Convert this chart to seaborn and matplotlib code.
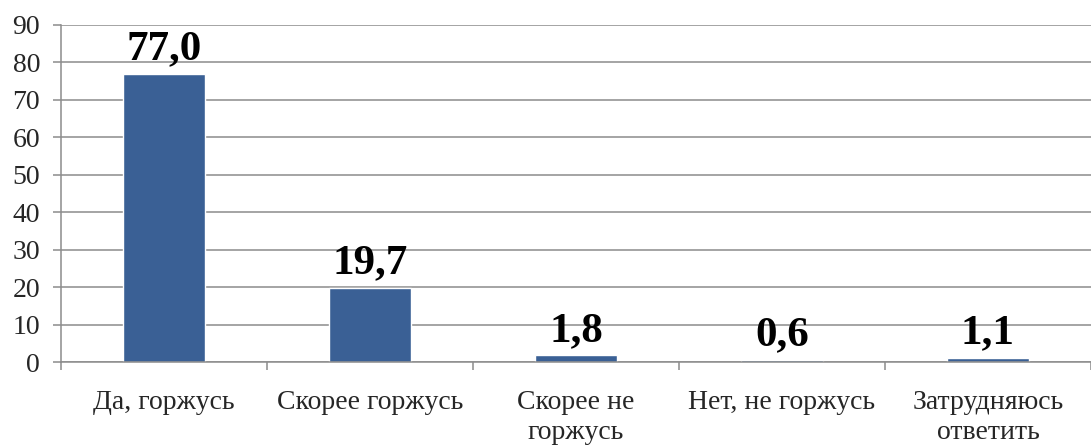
import matplotlib
matplotlib.use("Agg")
import matplotlib.pyplot as plt
import seaborn as sns
import numpy as np

categories = ["Да, горжусь", "Скорее горжусь", "Скорее не\nгоржусь", "Нет, не горжусь", "Затрудняюсь\nответить"]
values = [77.0, 19.7, 1.8, 0.6, 1.1]
value_labels = ["77,0", "19,7", "1,8", "0,6", "1,1"]
yticks = list(range(0, 91, 10))

sns.set_theme(style="white")
plt.rcParams['font.family'] = ['Liberation Serif', 'DejaVu Serif']

fig = plt.figure(figsize=(10.91, 4.45), dpi=100)
ax = fig.add_axes([61/1091, 1-362/445, 1-61/1091, (362-25)/445])

sns.barplot(x=categories, y=values, color="#3A6095", width=0.4, ax=ax, saturation=1)

ax.set_xlim(-0.5, 4.5)
ax.set_ylim(0, 90)
ax.set_yticks(yticks)
ax.yaxis.grid(True, color="#8C8C8C", linewidth=1.1)
ax.set_axisbelow(True)
for s in ["top", "right"]:
    ax.spines[s].set_visible(False)
for s in ["left", "bottom"]:
    ax.spines[s].set_color("#8C8C8C")
    ax.spines[s].set_linewidth(1.1)

ax.tick_params(axis="y", which="major", length=6, width=1.1, color="#8C8C8C", labelsize=20, pad=9, left=True)
ax.tick_params(axis="x", which="major", length=0, labelsize=20, pad=20)
ax.set_xticks(np.arange(-0.5, 5.0, 1.0), minor=True)
ax.tick_params(axis="x", which="minor", length=6, width=1.1, color="#8C8C8C", bottom=True)
for lbl in ax.get_xticklabels():
    lbl.set_linespacing(1.3)
ax.set_xlabel("")
ax.set_ylabel("")

for i, (v, t) in enumerate(zip(values, value_labels)):
    ax.annotate(t, (i, v), xytext=(0, 4), textcoords="offset points",
                ha="center", va="bottom", fontsize=31, fontweight="bold", color="black")

fig.savefig("out.png", dpi=100)
